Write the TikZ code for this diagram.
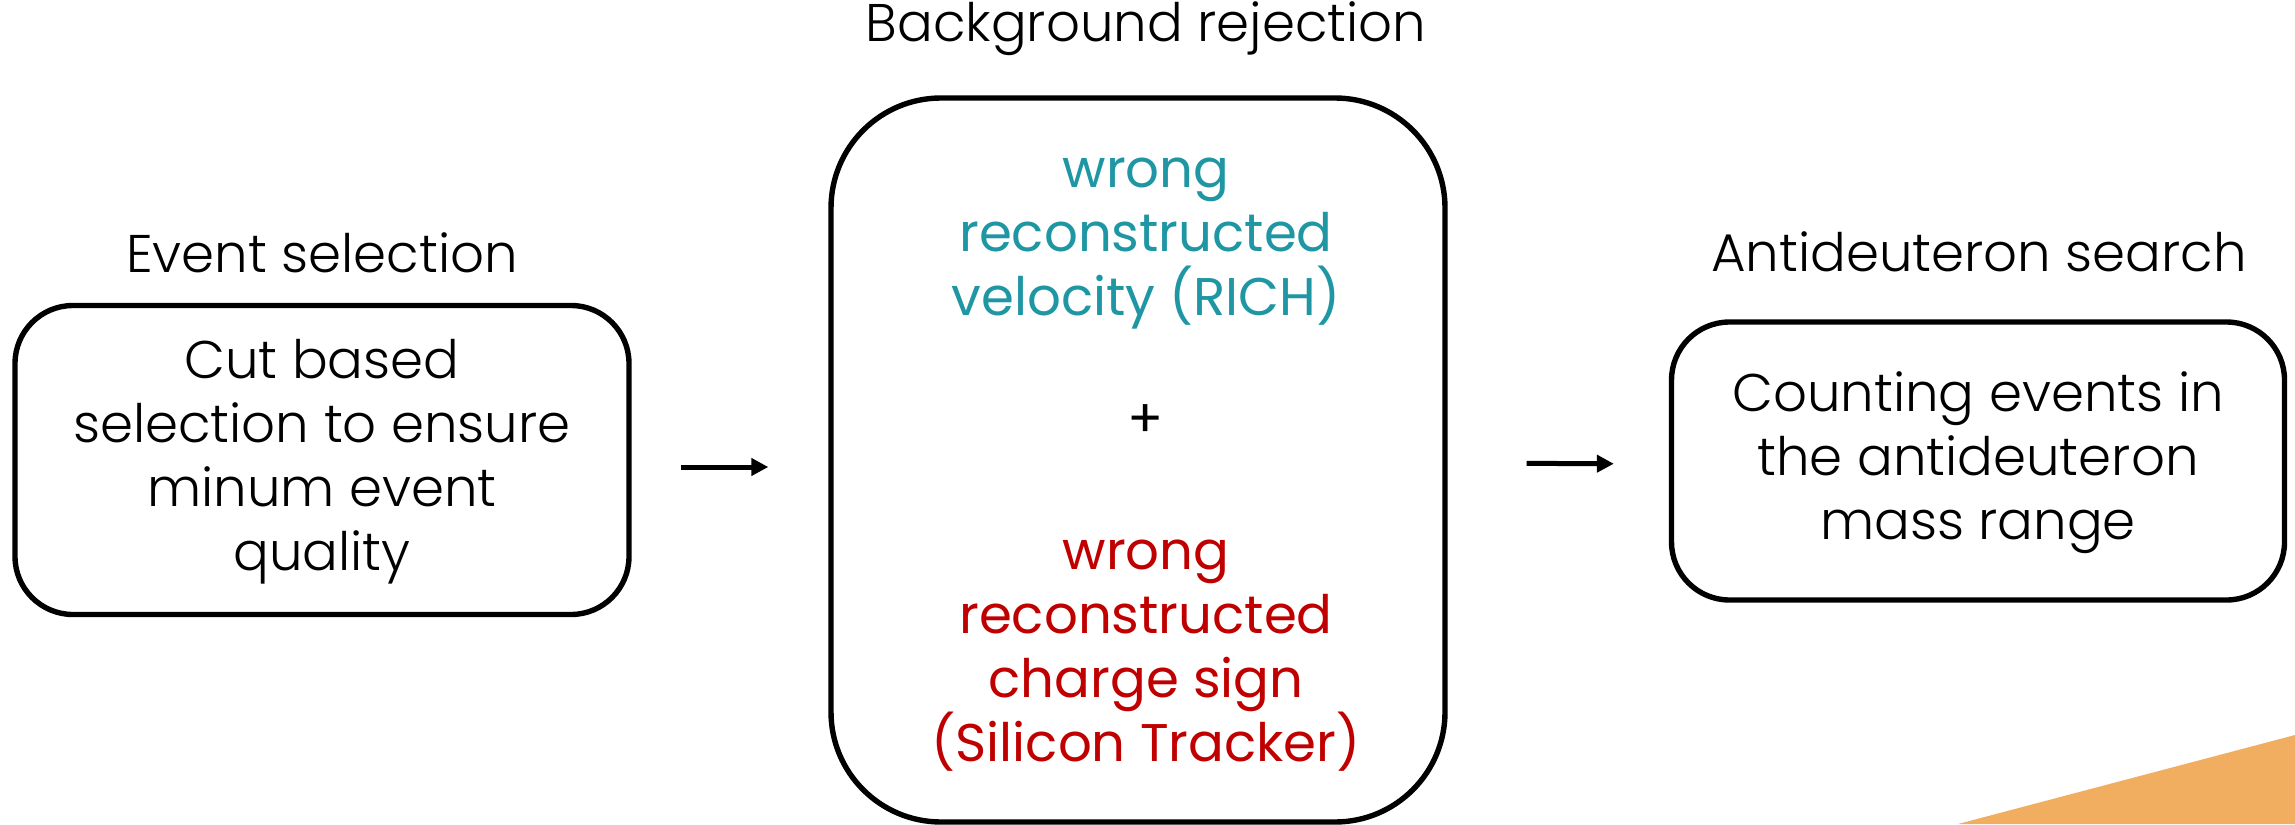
\documentclass[tikz,border=0pt]{standalone}
\usepackage{fontspec}
\setmainfont{Poppins}[UprightFont=* Light]
\newfontfamily\preg{Poppins}
\usetikzlibrary{arrows.meta}
\definecolor{tealc}{RGB}{31,150,163}
\definecolor{redc}{RGB}{192,0,0}
\definecolor{orangec}{RGB}{241,174,96}
\begin{document}
\begin{tikzpicture}[x=0.5pt,y=-0.5pt,
  box/.style={draw, line width=2.7pt, inner sep=0pt},
  txt/.style={align=center, inner sep=0pt, font=\fontsize{26.5pt}{32pt}\selectfont},
  midtxt/.style={align=center, inner sep=0pt, font=\preg\fontsize{26.5pt}{32pt}\selectfont},
  conn/.style={line width=2.5pt, -{Triangle[length=8.5pt,width=8.5pt]}}]
\useasboundingbox (0,0) rectangle (2295,824);
\fill[orangec] (1958,824) -- (2295,735) -- (2295,824) -- cycle;
% boxes
\node[box, rounded corners=29pt, minimum width=307pt, minimum height=154.5pt] (sel) at (322,460) {};
\node[box, rounded corners=55pt, minimum width=307pt, minimum height=362pt] (bkg) at (1138,460) {};
\node[box, rounded corners=29pt, minimum width=306.5pt, minimum height=139pt] (ant) at (1978,461) {};
% titles
\node[txt] (selT) at (322,253) {Event selection};
\node[txt] (bkgT) at (1146,29) {Background rejection};
\node[txt] (antT) at (1979,252) {Antideuteron search};
% box texts
\node[txt] (selX) at (322,462) {Cut based\\selection to ensure\\minum event\\quality};
\node[midtxt, text=tealc] (rich) at (1146,244) {wrong\\reconstructed\\velocity (RICH)};
\node[midtxt] (plus) at (1146,421) {+};
\node[midtxt, text=redc] (trk) at (1146,656) {wrong\\reconstructed\\charge sign\\(Silicon Tracker)};
\node[txt] (antX) at (1978,463) {Counting events in\\the antideuteron\\mass range};
% connectors
\draw[conn, shorten <=24.5pt, shorten >=30pt] ([yshift=-3.5pt]sel.east) -- ([yshift=-3.5pt]bkg.west);
\draw[conn, shorten <=39.5pt, shorten >=27.5pt] ([yshift=-1.5pt]bkg.east) -- ([yshift=-1.5pt]ant.west);
\end{tikzpicture}
\end{document}
